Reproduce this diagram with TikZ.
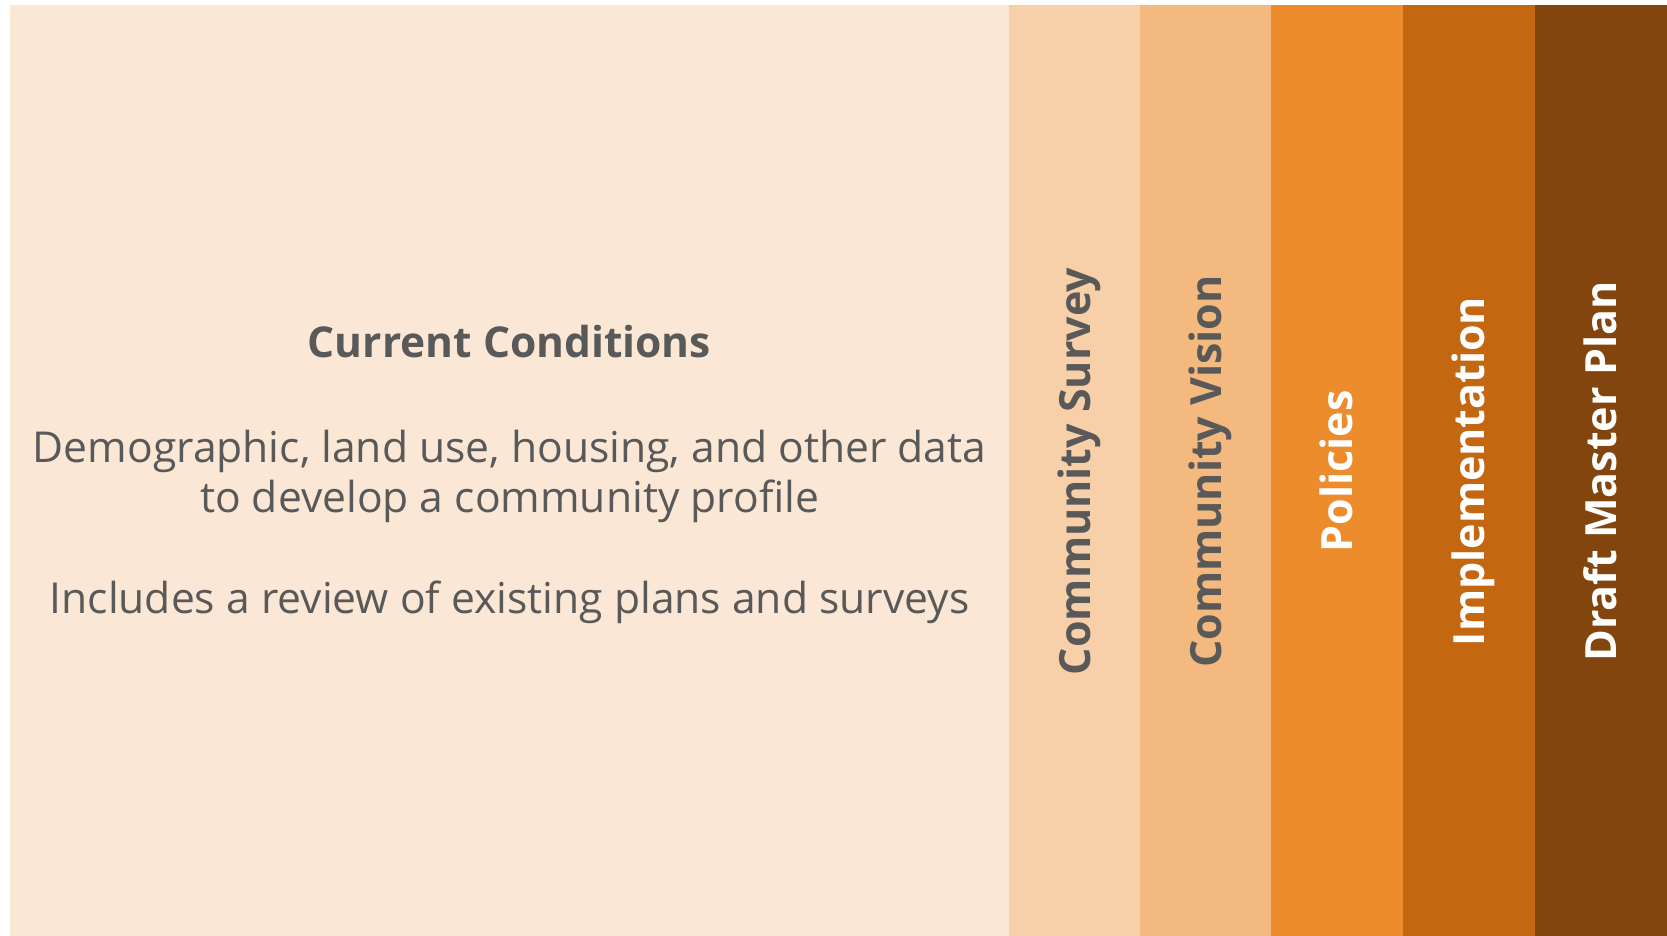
\documentclass[tikz,border=0pt]{standalone}
\usepackage{fontspec}
\setmainfont{Open Sans}
\definecolor{cBeige}{HTML}{FAE7D5}
\definecolor{cSurvey}{HTML}{F7D0AA}
\definecolor{cVision}{HTML}{F4B97F}
\definecolor{cPolicy}{HTML}{ED8C2D}
\definecolor{cImpl}{HTML}{C36811}
\definecolor{cDraft}{HTML}{82450D}
\definecolor{txtgray}{HTML}{595959}
\tikzset{
  vlabel/.style={rotate=90, anchor=base, inner sep=0pt, font=\fontsize{43}{50}\selectfont\bfseries},
  body/.style={anchor=base, inner sep=0pt, text=txtgray, font=\fontsize{42.6}{50}\selectfont}
}
\begin{document}
\begin{tikzpicture}[x=1pt,y=-1pt]
\useasboundingbox (0,0) rectangle (1667,936);
\fill[white] (0,0) rectangle (1667,936);
\fill[cBeige] (10,5) rectangle (1009,936);
\fill[cSurvey] (1009,5) rectangle (1140,936);
\fill[cVision] (1140,5) rectangle (1271,936);
\fill[cPolicy] (1271,5) rectangle (1403,936);
\fill[cImpl] (1403,5) rectangle (1535,936);
\fill[cDraft] (1535,5) rectangle (1667,936);
\node[body, font=\fontsize{42.5}{50}\selectfont\bfseries] (title) at (509.5,357) {Current Conditions};
\node[body] (desc1) at (509.5,462) {Demographic, land use, housing, and other data};
\node[body] (desc2) at (509.5,512) {to develop a community profile};
\node[body] (incl) at (509.5,613) {Includes a review of existing plans and surveys};
\node[vlabel, text=txtgray] (survey) at (1090,471.5) {Community Survey};
\node[vlabel, text=txtgray] (vision) at (1221,471.5) {Community Vision};
\node[vlabel, text=white] (policies) at (1352.5,471.5) {Policies};
\node[vlabel, text=white] (impl) at (1484.5,471.5) {Implementation};
\node[vlabel, text=white] (draft) at (1616.5,471.5) {Draft Master Plan};
\end{tikzpicture}
\end{document}
